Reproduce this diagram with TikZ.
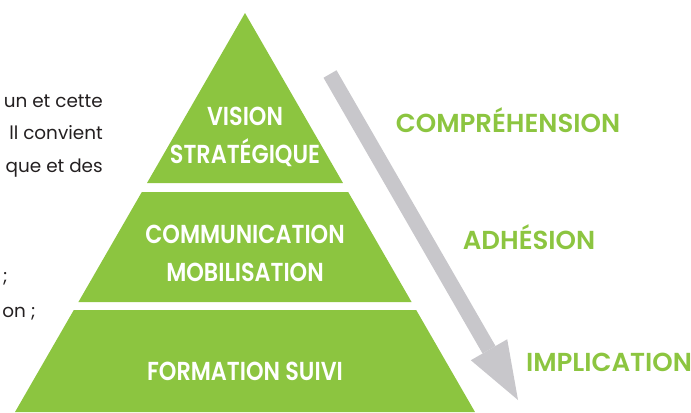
\documentclass[tikz,border=0pt]{standalone}
\usepackage{fontspec}
\setmainfont{Poppins}
\newfontfamily\tierfont{Poppins SemiBold}[FakeStretch=0.86]
\newfontfamily\stepfont{Poppins SemiBold}[FakeStretch=1.0]
\usetikzlibrary{arrows.meta}
\definecolor{pyrgreen}{HTML}{8CC540}
\definecolor{arrowgrey}{HTML}{C8C7CB}
\definecolor{bodyink}{HTML}{231F20}
\tikzset{
  pyr tier/.style={fill=pyrgreen},
  pyr label/.style={
    text=white, align=center, inner sep=0pt,
    font=\tierfont\fontsize{19.5}{28.5}\selectfont
  },
  step label/.style={
    text=pyrgreen, anchor=base, inner sep=0pt,
    font=\stepfont\fontsize{19.5}{24}\selectfont
  },
  body line/.style={
    text=bodyink, anchor=base east, inner sep=0pt,
    font=\fontsize{13.8}{18}\selectfont
  },
  flow arrow/.style={
    draw=arrowgrey, line width=11.25pt,
    -{Triangle[width=31.5pt, length=43.5pt, line width=0pt]}
  }
}

\begin{document}
\begin{tikzpicture}[x=0.75pt, y=-0.75pt]
  \useasboundingbox (0,0) rectangle (691,412);
  \clip (0,0) rectangle (691,412);

  % Pyramid: three tiers cut from one triangle, apex at (245,13)
  \foreach \ya/\yb in {13/183, 192/302, 310/412} {
    \pgfmathsetmacro\wa{0.5764*(\ya-13)}
    \pgfmathsetmacro\wb{0.5764*(\yb-13)}
    \fill[pyr tier] (245-\wa,\ya) -- (245+\wa,\ya)
      -- (245+\wb,\yb) -- (245-\wb,\yb) -- cycle;
  }
  \node (vision) [pyr label] at (245,137) {VISION\\STRATÉGIQUE};
  \node (commu) [pyr label] at (245,253) {COMMUNICATION\\MOBILISATION};
  \node (formation) [pyr label] at (245,371) {FORMATION SUIVI};

  % Grey arrow down the right side
  \coordinate (arr top) at (330,74);
  \coordinate (arr tip) at (518,400);
  \draw [flow arrow] (arr top) -- (arr tip);

  % Steps along the arrow
  \node (compr) [step label] at (508,132) {COMPRÉHENSION};
  \node (adhesion) [step label] at (529,249) {ADHÉSION};
  \node (implic) [step label] at (609,371) {IMPLICATION};

  % Paragraph ends on the left
  \node (para1) [body line] at (103,107) {un et cette};
  \node (para2) [body line] at (103,139) {ll convient};
  \node (para3) [body line] at (103,172) {que et des};
  \node (para4) [body line] at (8,282) {;};
  \node (para5) [body line] at (36,317) {on ;};
\end{tikzpicture}
\end{document}
